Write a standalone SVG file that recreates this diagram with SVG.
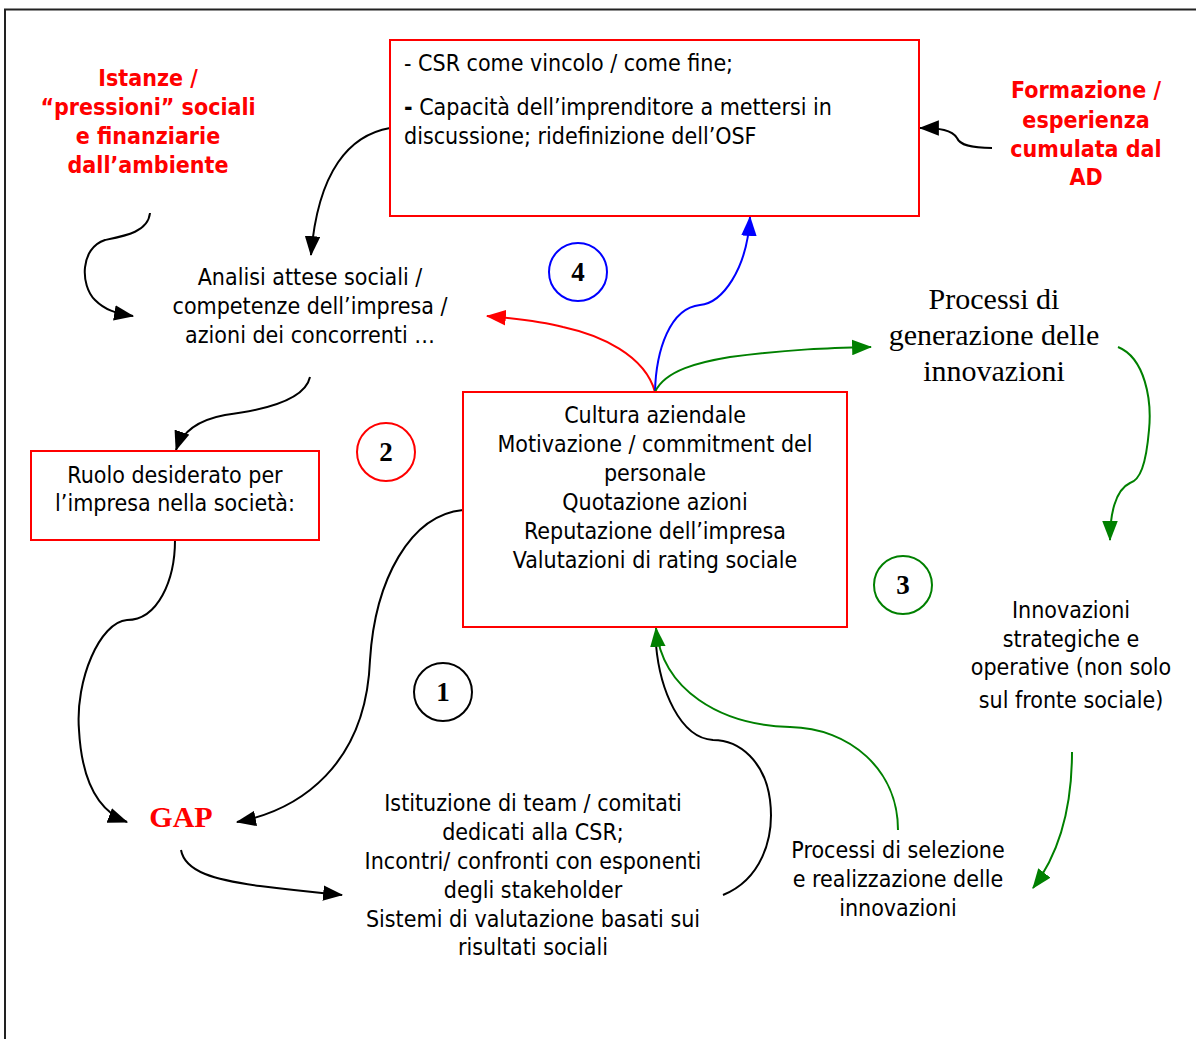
<svg xmlns="http://www.w3.org/2000/svg" width="1196" height="1039" viewBox="0 0 1196 1039">
<style>
.t{font-family:'DejaVu Sans Condensed','DejaVu Sans',sans-serif;font-size:23px;fill:#000}
.c{text-anchor:middle}
.rb{font-family:'DejaVu Sans Condensed','DejaVu Sans',sans-serif;font-size:23px;font-weight:bold;fill:#ff0000;text-anchor:middle}
.s{font-family:'Liberation Serif',serif;font-size:30px;fill:#000;text-anchor:middle}
.n{font-family:'Liberation Serif',serif;font-size:27px;font-weight:bold;fill:#000;text-anchor:middle}
.box{fill:#fff;stroke:#ff0000;stroke-width:2}
.k{fill:none;stroke:#000;stroke-width:2}
.r{fill:none;stroke:#ff0000;stroke-width:2}
.b{fill:none;stroke:#0000ff;stroke-width:2}
.g{fill:none;stroke:#008000;stroke-width:2}
</style>
<defs>
<marker id="ak" markerUnits="userSpaceOnUse" markerWidth="20" markerHeight="16" viewBox="0 0 18 14" refX="17" refY="7" orient="auto"><path d="M0,0 L18,7 L0,14 Z" fill="#000"/></marker>
<marker id="ar" markerUnits="userSpaceOnUse" markerWidth="20" markerHeight="16" viewBox="0 0 18 14" refX="17" refY="7" orient="auto"><path d="M0,0 L18,7 L0,14 Z" fill="#ff0000"/></marker>
<marker id="ab" markerUnits="userSpaceOnUse" markerWidth="20" markerHeight="16" viewBox="0 0 18 14" refX="17" refY="7" orient="auto"><path d="M0,0 L18,7 L0,14 Z" fill="#0000ff"/></marker>
<marker id="ag" markerUnits="userSpaceOnUse" markerWidth="20" markerHeight="16" viewBox="0 0 18 14" refX="17" refY="7" orient="auto"><path d="M0,0 L18,7 L0,14 Z" fill="#008000"/></marker>
</defs>
<rect width="1196" height="1039" fill="#fff"/>
<path d="M5,1039 L5,9.5 L1196,9.5" fill="none" stroke="#222" stroke-width="2"/>

<g id="connectors">
<path class="k" d="M150,213 C148,232 125,236 105,240 C80,248 80,285 95,300 C105,310 115,313 133,316" marker-end="url(#ak)"/>
<path class="k" d="M390,128 C350,135 318,170 311,255" marker-end="url(#ak)"/>
<path class="k" d="M310,377 C305,400 265,410 225,415 C198,420 182,432 176,450" marker-end="url(#ak)"/>
<path class="k" d="M175,540 C175,580 158,620 127,620 C100,622 75,680 79,730 C82,785 100,812 127,822" marker-end="url(#ak)"/>
<path class="k" d="M463,510 C410,515 375,580 370,660 C366,765 300,810 237,822" marker-end="url(#ak)"/>
<path class="k" d="M181,850 C185,872 215,880 260,886 C300,891 322,893 342,895" marker-end="url(#ak)"/>
<path class="k" d="M992,148 C970,148 960,145 957,138 C952,130 940,128 920,128" marker-end="url(#ak)"/>
<path class="k" d="M723,895 C760,880 775,840 770,800 C765,762 740,740 713,740 C680,738 660,690 656,645"/>
<path class="g" d="M898,830 C898,770 850,728 790,727 C720,725 662,690 656,628" marker-end="url(#ag)"/>
<path class="r" d="M655,392 C645,355 600,335 563,327 C540,321 510,318 487,316" marker-end="url(#ar)"/>
<path class="b" d="M655,392 C656,350 670,308 700,305 C722,303 747,270 750,217" marker-end="url(#ab)"/>
<path class="g" d="M655,392 C665,370 700,362 730,357 C790,349 830,348 871,347" marker-end="url(#ag)"/>
<path class="g" d="M1118,347 C1145,358 1152,400 1149,430 C1146,465 1140,480 1130,483 C1115,490 1110,515 1110,540" marker-end="url(#ag)"/>
<path class="g" d="M1072,752 C1072,800 1062,850 1033,888" marker-end="url(#ag)"/>
</g>

<g id="istanze">
<text class="rb" x="148" y="86">Istanze /</text>
<text class="rb" x="148" y="115">“pressioni” sociali</text>
<text class="rb" x="148" y="144">e finanziarie</text>
<text class="rb" x="148" y="173">dall’ambiente</text>
</g>
<g id="formazione">
<text class="rb" x="1086" y="98">Formazione /</text>
<text class="rb" x="1086" y="128">esperienza</text>
<text class="rb" x="1086" y="157">cumulata dal</text>
<text class="rb" x="1086" y="185">AD</text>
</g>
<g id="csr">
<rect class="box" x="390" y="40" width="529" height="176"/>
<text class="t" x="404" y="71">- CSR come vincolo / come fine;</text>
<text class="t" x="404" y="115"><tspan font-weight="bold">-</tspan> Capacità dell’imprenditore a mettersi in</text>
<text class="t" x="404" y="144">discussione; ridefinizione dell’OSF</text>
</g>
<g id="analisi">
<text class="t c" x="310" y="285">Analisi attese sociali /</text>
<text class="t c" x="310" y="314">competenze dell’impresa /</text>
<text class="t c" x="310" y="343">azioni dei concorrenti …</text>
</g>
<g id="ruolo">
<rect class="box" x="31" y="451" width="288" height="89"/>
<text class="t c" x="175" y="483">Ruolo desiderato per</text>
<text class="t c" x="175" y="511">l’impresa nella società:</text>
</g>
<g id="cultura">
<rect class="box" x="463" y="392" width="384" height="235"/>
<text class="t c" x="655" y="423">Cultura aziendale</text>
<text class="t c" x="655" y="452">Motivazione / commitment del</text>
<text class="t c" x="655" y="481">personale</text>
<text class="t c" x="655" y="510">Quotazione azioni</text>
<text class="t c" x="655" y="539">Reputazione dell’impresa</text>
<text class="t c" x="655" y="568">Valutazioni di rating sociale</text>
</g>
<g id="generazione">
<text class="s" x="994" y="309">Processi di</text>
<text class="s" x="994" y="345">generazione delle</text>
<text class="s" x="994" y="381">innovazioni</text>
</g>
<g id="innovazioni">
<text class="t c" x="1071" y="618">Innovazioni</text>
<text class="t c" x="1071" y="647">strategiche e</text>
<text class="t c" x="1071" y="675">operative (non solo</text>
<text class="t c" x="1071" y="708">sul fronte sociale)</text>
</g>
<g id="gap">
<text x="181" y="827" font-family="'Liberation Serif',serif" font-size="30" font-weight="bold" fill="#ff0000" text-anchor="middle">GAP</text>
</g>
<g id="istituzione">
<text class="t c" x="533" y="811">Istituzione di team / comitati</text>
<text class="t c" x="533" y="840">dedicati alla CSR;</text>
<text class="t c" x="533" y="869">Incontri/ confronti con esponenti</text>
<text class="t c" x="533" y="898">degli stakeholder</text>
<text class="t c" x="533" y="927">Sistemi di valutazione basati sui</text>
<text class="t c" x="533" y="955">risultati sociali</text>
</g>
<g id="selezione">
<text class="t c" x="898" y="858">Processi di selezione</text>
<text class="t c" x="898" y="887">e realizzazione delle</text>
<text class="t c" x="898" y="916">innovazioni</text>
</g>
<g id="c4"><circle cx="578" cy="272" r="29" fill="none" stroke="#0000ff" stroke-width="2"/><text class="n" x="578" y="281">4</text></g>
<g id="c2"><circle cx="386" cy="452" r="29" fill="none" stroke="#ff0000" stroke-width="2"/><text class="n" x="386" y="461">2</text></g>
<g id="c1"><circle cx="443" cy="692" r="29" fill="none" stroke="#000" stroke-width="2"/><text class="n" x="443" y="701">1</text></g>
<g id="c3"><circle cx="903" cy="585" r="29" fill="none" stroke="#008000" stroke-width="2"/><text class="n" x="903" y="594">3</text></g>
</svg>
